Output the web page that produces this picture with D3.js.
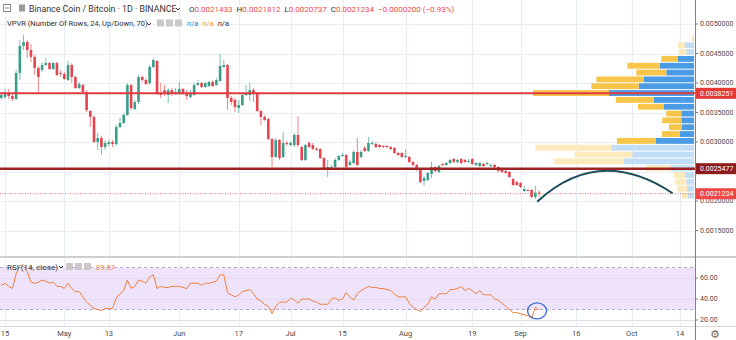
<!DOCTYPE html>
<html><head><meta charset="utf-8">
<script src="https://cdn.jsdelivr.net/npm/d3@7"></script>
<style>body{margin:0;background:#fff;} svg{display:block;font-family:Roboto,"Noto Sans",sans-serif;}</style>
</head><body><svg id="c" width="736" height="340"></svg>
<script>
// ---------- DATA ----------
const firstDate = "2019-04-14";
const opens = [
.003746,.003763,.003831,.003780,.003729,.004170,.004627,.004695,.004559,.004441,
.004254,.004220,.004305,.004339,.004237,.004339,.004170,.004153,.004051,.004305,
.004102,.003915,.003966,.003848,.003525,.003424,.003000,.003068,.002915,.002966,
.003000,.002966,.003254,.003322,.003458,.003966,.003559,.003678,.004102,.004051,
.004000,.004271,.004373,.003831,.003881,.003797,.003881,.003831,.003831,.003898,
.003831,.003763,.003797,.003966,.004000,.003932,.003949,.004017,.003966,.004034,
.004271,.004305,.003746,.003712,.003576,.003627,.003797,.003797,.003881,.003831,
.003525,.003424,.003390,.003051,.002746,.003034,.002746,.002983,.002949,.002949,
.003119,.002915,.002695,.002983,.002949,.002881,.002881,.002729,.002559,.002559,
.002576,.002695,.002763,.002780,.002610,.002644,.002831,.002746,.002898,.002848,
.002966,.002966,.002949,.002932,.002932,.002915,.002898,.002814,.002814,.002746,
.002746,.002661,.002610,.002525,.002339,.002356,.002458,.002576,.002492,.002627,
.002610,.002644,.002712,.002661,.002712,.002695,.002661,.002712,.002610,.002593,
.002627,.002627,.002593,.002610,.002576,.002542,.002508,.002492,.002373,.002322,
.002305,.002169,.002186,.002186,.002068,.0021433];
const highs = [
.003848,.003898,.003898,.003814,.004220,.004729,.004814,.004729,.004661,.004475,
.004288,.004356,.004424,.004356,.004356,.004356,.004220,.004187,.004373,.004339,
.004119,.004017,.003983,.003881,.003542,.003458,.003153,.003102,.003034,.003034,
.003034,.003288,.003407,.003492,.004000,.003983,.003712,.004136,.004119,.004085,
.004305,.004424,.004390,.004000,.003966,.003915,.003915,.003915,.004017,.003915,
.003881,.003881,.004000,.004051,.004017,.004017,.004034,.004051,.004085,.004492,
.004390,.004322,.003780,.003746,.003712,.003831,.003966,.004000,.003915,.003848,
.003542,.003458,.003407,.003068,.003068,.003051,.003170,.003017,.003017,.003153,
.003441,.002932,.002966,.003017,.002983,.002915,.002898,.002746,.002695,.002610,
.002729,.002780,.002814,.002797,.002695,.002864,.003068,.002864,.002932,.003085,
.003017,.003000,.002966,.002949,.002949,.002932,.002915,.002831,.002831,.002881,
.002763,.002678,.002627,.002542,.002424,.002492,.002661,.002593,.002610,.002644,
.002661,.002712,.002729,.002712,.002729,.002712,.002712,.002729,.002661,.002661,
.002644,.002661,.002627,.002627,.002593,.002559,.002525,.002508,.002390,.002339,
.002322,.002254,.002203,.002203,.002254,.0021812];
const lows = [
.003712,.003729,.003729,.003695,.003712,.004051,.004559,.004424,.004356,.004136,
.003848,.004187,.004288,.004220,.004220,.004119,.004102,.004051,.004034,.004000,
.003898,.003898,.003831,.003509,.003254,.002983,.002864,.002780,.002864,.002932,
.002915,.002932,.003237,.003305,.003441,.003542,.003542,.003644,.004017,.003966,
.003966,.004254,.003797,.003746,.003780,.003661,.003780,.003797,.003797,.003797,
.003712,.003746,.003780,.003949,.003915,.003915,.003932,.003932,.003949,.004017,
.004254,.003542,.003627,.003509,.003492,.003610,.003780,.003695,.003678,.003509,
.003288,.003356,.003034,.002576,.002729,.002695,.002729,.002932,.002932,.002915,
.002915,.002678,.002678,.002898,.002864,.002848,.002712,.002525,.002407,.002542,
.002559,.002678,.002746,.002559,.002593,.002627,.002593,.002729,.002831,.002831,
.002949,.002898,.002898,.002898,.002898,.002864,.002797,.002763,.002729,.002729,
.002644,.002593,.002508,.002305,.002254,.002339,.002390,.002492,.002475,.002593,
.002593,.002627,.002644,.002644,.002627,.002644,.002644,.002610,.002593,.002576,
.002576,.002610,.002576,.002559,.002492,.002475,.002458,.002390,.002254,.002254,
.002220,.002153,.002169,.002051,.002034,.0020737];
const closes = [
.003797,.003831,.003780,.003729,.004170,.004627,.004695,.004559,.004441,.004254,
.004102,.004305,.004339,.004237,.004339,.004136,.004153,.004068,.004305,.004102,
.003915,.003983,.003848,.003542,.003424,.003000,.003068,.002915,.002983,.003000,
.002966,.003254,.003322,.003458,.003966,.003576,.003678,.004102,.004051,.003983,
.004271,.004390,.003831,.003797,.003831,.003881,.003831,.003848,.003898,.003831,
.003780,.003831,.003966,.004000,.003932,.004000,.004017,.003949,.004051,.004288,
.004305,.003746,.003678,.003593,.003627,.003797,.003831,.003881,.003831,.003525,
.003424,.003373,.003051,.002746,.003034,.002729,.002983,.002966,.002983,.003119,
.002949,.002695,.002949,.002915,.002881,.002864,.002729,.002559,.002576,.002576,
.002695,.002763,.002780,.002576,.002661,.002831,.002610,.002831,.002848,.002983,
.002983,.002915,.002915,.002915,.002915,.002881,.002814,.002780,.002746,.002763,
.002661,.002610,.002525,.002322,.002390,.002475,.002576,.002508,.002593,.002610,
.002644,.002695,.002661,.002695,.002644,.002661,.002678,.002627,.002644,.002644,
.002593,.002644,.002610,.002576,.002508,.002492,.002475,.002407,.002271,.002271,
.002237,.002203,.002178,.002068,.002143,.0021234];
const rsiValues = [
53,55,52,50,64,72,71,66,56,55,
56,58,57,55,56,52,52,50,55,50,
47,47,42,37,34,31,30,29,31,31,
31,41,45,48,58,50,52,58,57,55,
61,63,50,52,51,51,52,52,52,51,
50,55,55,55,53,55,55,56,57,63,
63,46,44,42,44,47,48,49,45,40,
38,35,33,26,33,37,37,37,41,39,
36,40,40,40,38,37,35,35,35,40,
41,39,40,46,42,39,45,48,50,52,
51,51,50,50,49,48,45,42,42,42,
36,32,30,28,32,35,42,40,45,45,
45,49,49,50,52,48,50,48,45,48,
44,44,44,40,39,36,33,30,27,27,
26,25,24,22,32,29.67];
// volume profile rows, bottom (lowest price) to top
const vpDown = [6,9.7,11,10.7,24,70.3,57.7,76,38.7,17.7,13,19,15,26,38,76,47.3,47.3,30,32.3,16.7,7.7,6.7,1];
const vpUp   = [6,7,7.7,9.3,23.7,70,61.7,82.7,38.3,14.3,12,12.7,12.7,30,40.3,85,55.3,50.3,27.7,34.3,16,7.7,9.3,1];
const valueAreaRows = [8, 20];
const priceTicks = [0.0015,0.0020,0.0025,0.0030,0.0035,0.0040,0.0045,0.0050];
const rsiTicks = [20,40,60];
const rsiBand = [30,70];
const dateTicks = ["2019-04-15","2019-05-01","2019-05-13","2019-06-01","2019-06-17","2019-07-01","2019-07-15","2019-08-01","2019-08-19","2019-09-01","2019-09-16","2019-10-01","2019-10-14"];
const dateTickLabels = ["15","May","13","Jun","17","Jul","15","Aug","19","Sep","16","Oct","14"];
const resistance = 0.0038251;
const support = 0.0025477;
const lastPrice = 0.0021234;
const arcPoints = [["2019-09-05T12",0.001988],["2019-09-23",0.002509],["2019-10-12",0.002131]];
const ohlc = [["O","0.0021433"],["H","0.0021812"],["L","0.0020737"],["C","0.0021234"]];
const change = "\u22120.0000200 (\u22120.93%)";

// ---------- SCALES ----------
const parse = d3.timeParse("%Y-%m-%d");
const parseH = d3.timeParse("%Y-%m-%dT%H");
const pd = s => parse(s) || parseH(s);
const W = 736, AX = 695, MAIN_B = 256, RSI_T = 258, RSI_B = 326;
const x = d3.scaleTime().domain([pd("2019-04-15"), pd("2019-10-14")]).range([5, 680]);
const y = d3.scaleLinear().domain([0.0015, 0.0050]).range([230.5, 24]);
const yR = d3.scaleLinear().domain([20, 60]).range([320, 278]);
const start = pd(firstDate);
const candles = opens.map((o,i)=>({date:d3.timeDay.offset(start,i),o,h:highs[i],l:lows[i],c:closes[i],r:rsiValues[i]}));

const UP="#3a9e89", DN="#e5444e";
const svg = d3.select("#c");
svg.append("rect").attr("width",W).attr("height",340).attr("fill","#fff");
const defs = svg.append("defs");
defs.append("clipPath").attr("id","mainClip").append("rect").attr("x",0).attr("y",0).attr("width",AX).attr("height",MAIN_B);
defs.append("clipPath").attr("id","rsiClip").append("rect").attr("x",0).attr("y",RSI_T).attr("width",AX).attr("height",RSI_B-RSI_T);

// grid
const grid = svg.append("g").attr("stroke","#e9eef4").attr("stroke-width",1);
dateTicks.forEach(d=>{
  const gx = Math.round(x(pd(d)))+0.5;
  grid.append("line").attr("x1",gx).attr("x2",gx).attr("y1",0).attr("y2",MAIN_B);
  grid.append("line").attr("x1",gx).attr("x2",gx).attr("y1",RSI_T).attr("y2",RSI_B);
});
priceTicks.forEach(p=>{ const gy=Math.round(y(p))+0.5; grid.append("line").attr("x1",0).attr("x2",AX).attr("y1",gy).attr("y2",gy); });

// RSI band + grid
svg.append("rect").attr("x",0).attr("width",AX).attr("y",yR(rsiBand[1])).attr("height",yR(rsiBand[0])-yR(rsiBand[1])).attr("fill","#efe3fb");
rsiTicks.forEach(t=>{ const gy=Math.round(yR(t))+0.5; svg.append("line").attr("x1",0).attr("x2",AX).attr("y1",gy).attr("y2",gy).attr("stroke","#e3dcef"); });
rsiBand.forEach(t=>{ svg.append("line").attr("x1",0).attr("x2",AX).attr("y1",yR(t)).attr("y2",yR(t)).attr("stroke","#b9a6cc").attr("stroke-dasharray","3,3"); });

// volume profile
const main = svg.append("g").attr("clip-path","url(#mainClip)");
const lo = d3.min(lows), hi = d3.max(highs), step = (hi-lo)/vpDown.length;
const totals = vpDown.map((d,i)=>d+vpUp[i]);
const wv = d3.scaleLinear().domain([0,d3.max(totals)]).range([0,161]);
const VR = 694;
vpDown.forEach((d,i)=>{
  const y0 = y(lo+(i+1)*step), y1 = y(lo+i*step);
  const dark = i>=valueAreaRows[0] && i<=valueAreaRows[1];
  const h = y1-y0-1;
  main.append("rect").attr("x",VR-wv(vpUp[i])).attr("width",wv(vpUp[i])).attr("y",y0+0.5).attr("height",h).attr("fill",dark?"#4a9be6":"#c2ddf6");
  main.append("rect").attr("x",VR-wv(totals[i])).attr("width",wv(d)).attr("y",y0+0.5).attr("height",h).attr("fill",dark?"#f6c54a":"#fce9bc");
});

// candles
const cw = 2.6;
const cg = main.append("g");
candles.forEach(d=>{
  const cx = x(d.date), col = d.c>=d.o?UP:DN;
  cg.append("line").attr("x1",cx).attr("x2",cx).attr("y1",y(d.h)).attr("y2",y(d.l)).attr("stroke",col).attr("stroke-opacity",0.65).attr("stroke-width",1);
  const top = y(Math.max(d.o,d.c)), bot = y(Math.min(d.o,d.c));
  cg.append("rect").attr("x",cx-cw/2).attr("width",cw).attr("y",top).attr("height",Math.max(1,bot-top)).attr("fill",col);
});

// level lines
main.append("line").attr("x1",0).attr("x2",AX).attr("y1",y(lastPrice)).attr("y2",y(lastPrice)).attr("stroke","#e57373").attr("stroke-width",1).attr("stroke-dasharray","1,1.5");
main.append("line").attr("x1",0).attr("x2",AX).attr("y1",y(resistance)).attr("y2",y(resistance)).attr("stroke","#e0393e").attr("stroke-width",2);
main.append("line").attr("x1",0).attr("x2",AX).attr("y1",y(support)).attr("y2",y(support)).attr("stroke","#9e2424").attr("stroke-width",2.6);

// arc
const ap = arcPoints.map(([d,p])=>[x(pd(d)),y(p)]);
const ctrl = [2*ap[1][0]-(ap[0][0]+ap[2][0])/2, 2*ap[1][1]-(ap[0][1]+ap[2][1])/2];
const path = d3.path(); path.moveTo(ap[0][0],ap[0][1]); path.quadraticCurveTo(ctrl[0],ctrl[1],ap[2][0],ap[2][1]);
main.append("path").attr("d",path.toString()).attr("fill","none").attr("stroke","#1f4f5c").attr("stroke-width",2);

// RSI line
const rsiG = svg.append("g").attr("clip-path","url(#rsiClip)");
rsiG.append("path").datum(candles).attr("d",d3.line().x(d=>x(d.date)).y(d=>yR(d.r))).attr("fill","none").attr("stroke","#f07f3c").attr("stroke-width",1);
const last = candles[candles.length-1];
rsiG.append("ellipse").attr("cx",x(last.date)-2).attr("cy",yR(last.r)+1).attr("rx",9.5).attr("ry",8).attr("fill","none").attr("stroke","#3b6fd6").attr("stroke-width",1.4);

// separators and axis
svg.append("line").attr("x1",0).attr("x2",W).attr("y1",257).attr("y2",257).attr("stroke","#cfcfcf").attr("stroke-width",2);
svg.append("line").attr("x1",0).attr("x2",W).attr("y1",RSI_B+0.5).attr("y2",RSI_B+0.5).attr("stroke","#d6d6d6");
svg.append("line").attr("x1",AX+0.5).attr("x2",AX+0.5).attr("y1",0).attr("y2",340).attr("stroke","#808080");

// price axis labels
const levelBoxes = [[resistance,"#e53935"],[support,"#8e1b1b"],[lastPrice,"#ef4646"]];
const ax = svg.append("g").attr("font-size","7px").attr("fill","#4a4a4a");
priceTicks.forEach(p=>{
  const ty = y(p);
  ax.append("line").attr("x1",AX).attr("x2",AX+3).attr("y1",ty).attr("y2",ty).attr("stroke","#808080");
  if (levelBoxes.some(([lp])=>Math.abs(y(lp)-ty)<6)) return;
  ax.append("text").attr("x",AX+5).attr("y",ty).attr("dy","0.35em").text(d3.format(".7f")(p));
});
rsiTicks.forEach(t=>{
  const ty = yR(t);
  ax.append("line").attr("x1",AX).attr("x2",AX+3).attr("y1",ty).attr("y2",ty).attr("stroke","#808080");
  ax.append("text").attr("x",AX+5).attr("y",ty).attr("dy","0.35em").text(d3.format(".2f")(t));
});
levelBoxes.forEach(([p,col])=>{
  const ty = y(p);
  svg.append("rect").attr("x",AX+1).attr("y",ty-5.5).attr("width",W-AX-1).attr("height",11).attr("fill",col);
  svg.append("text").attr("x",AX+5).attr("y",ty).attr("dy","0.35em").attr("font-size","7px").attr("fill","#fff").text(d3.format(".7f")(p));
});
// date labels
dateTicks.forEach((d,i)=>{
  svg.append("text").attr("x",x(pd(d))).attr("y",336).attr("text-anchor","middle").attr("font-size","7.5px").attr("fill","#4a4a4a").text(dateTickLabels[i]);
});
svg.append("text").attr("x",715).attr("y",338).attr("text-anchor","middle").attr("font-size","11px").attr("fill","#666").attr("font-family","DejaVu Sans").text("\u2699");

// header
const hd = svg.append("g");
hd.append("rect").attr("x",3.5).attr("y",4.5).attr("width",7).attr("height",7).attr("fill","none").attr("stroke","#888");
hd.append("line").attr("x1",5).attr("x2",9).attr("y1",8).attr("y2",8).attr("stroke","#888");
hd.append("rect").attr("x",19).attr("y",4.5).attr("width",6).attr("height",7).attr("fill","#9a9a9a");
hd.append("text").attr("x",29).attr("y",12).attr("font-size","8.8px").attr("fill","#333").text("Binance Coin / Bitcoin \u00b7 1D \u00b7 BINANCE");
hd.append("path").attr("d","M176,8 l2,2 l2,-2").attr("fill","none").attr("stroke","#333");
const ot = hd.append("text").attr("x",189).attr("y",12).attr("font-size","8px");
ohlc.forEach(([k,v],i)=>{ ot.append("tspan").attr("fill","#333").attr("dx",i?4:0).text(k); ot.append("tspan").attr("fill","#ef4b4b").text(v); });
ot.append("tspan").attr("fill","#ef4b4b").attr("dx",4).text(change);

hd.append("text").attr("x",7).attr("y",26).attr("font-size","7.5px").attr("fill","#333").text("VPVR (Number Of Rows, 24, Up/Down, 70)");
hd.append("path").attr("d","M147,23 l2,2 l2,-2").attr("fill","none").attr("stroke","#333");
[157,166,175].forEach(ix=>hd.append("rect").attr("x",ix).attr("y",19.5).attr("width",7).attr("height",7).attr("fill","#c9c9c9"));
const na = hd.append("text").attr("x",187).attr("y",26).attr("font-size","7.5px");
na.append("tspan").attr("fill","#2f80d6").text("n/a");
na.append("tspan").attr("fill","#f0a020").attr("dx",4).text("n/a");
na.append("tspan").attr("fill","#333").attr("dx",4).text("n/a");

hd.append("text").attr("x",7).attr("y",269.5).attr("font-size","8px").attr("fill","#333").text("RSI (14, close)");
hd.append("path").attr("d","M59,266 l2,2 l2,-2").attr("fill","none").attr("stroke","#333");
[66,75,84].forEach(ix=>hd.append("rect").attr("x",ix).attr("y",263).attr("width",7).attr("height",7).attr("fill","#c9c9c9"));
hd.append("text").attr("x",96).attr("y",269.5).attr("font-size","7.5px").attr("fill","#f07f3c").text(d3.format(".2f")(last.r));
</script></body></html>
